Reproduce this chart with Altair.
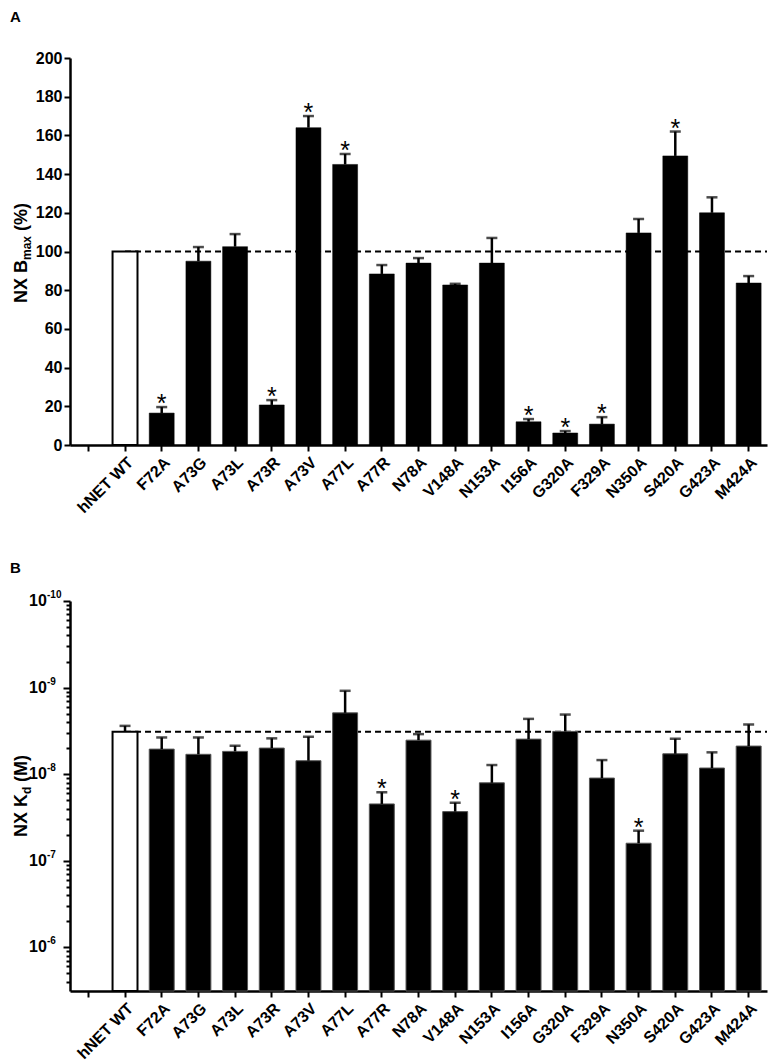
import altair as alt
import pandas as pd

# ---------------- data ----------------
categories = ["hNET WT", "F72A", "A73G", "A73L", "A73R", "A73V", "A77L", "A77R", "N78A",
              "V148A", "N153A", "I156A", "G320A", "F329A", "N350A", "S420A", "G423A", "M424A"]

bmax_mean = [100, 16.5, 95, 102.5, 20.7, 164, 145, 88.4, 94, 82.7, 94, 12, 6.2, 10.8,
             109.6, 149.4, 120, 83.7]
bmax_sem = [0, 3.1, 7.3, 6.5, 2.5, 6, 5.4, 4.6, 2.6, 0.6, 13, 1.4, 1.0, 3.6, 7.2, 12.6, 8, 3.6]
bmax_sig = [False, True, False, False, True, True, True, False, False, False, False,
            True, True, True, False, True, False, False]

kd_mean = [3.24e-9, 5.14e-9, 5.9e-9, 5.46e-9, 5.0e-9, 7.0e-9, 1.96e-9, 2.21e-8, 4.05e-9,
           2.71e-8, 1.26e-8, 3.94e-9, 3.21e-9, 1.11e-8, 6.28e-8, 5.82e-9, 8.5e-9, 4.74e-9]
kd_sem = [0.47e-9, 1.37e-9, 2.13e-9, 0.76e-9, 1.14e-9, 3.3e-9, 0.87e-9, 5.9e-9, 0.6e-9,
          5.7e-9, 4.75e-9, 1.64e-9, 1.16e-9, 4.22e-9, 17.8e-9, 1.92e-9, 2.9e-9, 2.07e-9]
kd_sig = [False, False, False, False, False, False, False, True, False, True, False,
          False, False, False, True, False, False, False]

bmax_ticks = [0, 20, 40, 60, 80, 100, 120, 140, 160, 180, 200]
kd_decades = [1e-10, 1e-9, 1e-8, 1e-7, 1e-6]
kd_exponents = ["-10", "-9", "-8", "-7", "-6"]

# ---------------- style ----------------
FONT = "Liberation Sans"
W = 697
HA = 387
HB = 390
KD_TOP = 1e-10
KD_BOTTOM = 3.2e-6

domain = [""] + categories
xscale = alt.Scale(domain=domain, paddingInner=0.32, paddingOuter=0.16)

axX = alt.Axis(title=None, labelAngle=-45, labelAlign="right", labelBaseline="top",
               labelFont=FONT, labelFontSize=16, labelFontWeight="bold", labelColor="black",
               labelOverlap=False, labelPadding=3, tickSize=6, tickWidth=2, tickColor="black",
               domainWidth=2.5, domainColor="black", grid=False)


def X():
    return alt.X("cat:N", scale=xscale, sort=domain, axis=axX)


def text_layer(txt, x, y, size, angle=0, align="left", baseline="middle", weight="bold"):
    return alt.Chart(pd.DataFrame({"t": [txt]})).mark_text(
        align=align, baseline=baseline, angle=angle, fontSize=size, fontWeight=weight,
        font=FONT, color="black"
    ).encode(x=alt.value(x), y=alt.value(y), text="t:N")


# ---------------- panel A ----------------
dfa = pd.DataFrame({"cat": categories, "val": bmax_mean, "sem": bmax_sem, "sig": bmax_sig})
dfa["top"] = dfa["val"] + dfa["sem"]

yscaleA = alt.Scale(domain=[0, 200], nice=False, zero=True)
axYA = alt.Axis(values=bmax_ticks, title=None, labelFont=FONT, labelFontSize=16,
                labelFontWeight="bold", labelColor="black", labelPadding=2,
                tickSize=6, tickWidth=2, tickColor="black", domainWidth=2.5,
                domainColor="black", grid=False)

baseA = alt.Chart(dfa)

refA = alt.Chart(pd.DataFrame({"cat": ["hNET WT"], "val": [100]})).mark_rule(
    strokeDash=[6, 4], strokeWidth=2, color="black"
).encode(x=alt.X("cat:N", scale=xscale, sort=domain, axis=axX, bandPosition=0.5),
         x2=alt.value(W), y=alt.Y("val:Q", scale=yscaleA, axis=axYA))

barsA_wt = baseA.transform_filter("datum.cat == 'hNET WT'").mark_bar(
    fill="white", stroke="black", strokeWidth=2
).encode(x=X(), y=alt.Y("val:Q", scale=yscaleA, axis=axYA))

barsA = baseA.transform_filter("datum.cat != 'hNET WT'").mark_bar(
    fill="black", stroke="black", strokeWidth=0.5
).encode(x=X(), y=alt.Y("val:Q", scale=yscaleA, axis=axYA))

errA = baseA.transform_filter("datum.sem > 0").mark_rule(strokeWidth=2.5, color="black").encode(
    x=X(), y=alt.Y("val:Q", scale=yscaleA, axis=axYA), y2="top:Q")

capA = baseA.transform_filter("datum.sem > 0").mark_tick(
    thickness=2.5, size=11, color="black", orient="horizontal"
).encode(x=X(), y=alt.Y("top:Q", scale=yscaleA, axis=axYA))

starA = baseA.transform_filter("datum.sig").mark_text(
    text="*", fontSize=25, baseline="alphabetic", dy=5, font=FONT, color="black"
).encode(x=X(), y=alt.Y("top:Q", scale=yscaleA, axis=axYA))

panelA = alt.layer(
    refA, barsA_wt, barsA, errA, capA, starA,
    text_layer("A", -60, -48, 15, baseline="top"),
    text_layer("NX B", -48, 245, 18, angle=270),
    text_layer("max", -43, 202, 12, angle=270),
    text_layer("(%)", -48, 173, 18, angle=270),
).properties(width=W, height=HA)

# ---------------- panel B ----------------
dfb = pd.DataFrame({"cat": categories, "val": kd_mean, "sem": kd_sem, "sig": kd_sig})
dfb["top"] = dfb["val"] - dfb["sem"]
dfb["base"] = KD_BOTTOM

minor = [10 ** (d + 1) / v for d in range(-10, -6) for v in range(2, 10)] + \
        [1e-5 / v for v in range(4, 10)]
tick_vals = kd_decades + minor

yscaleB = alt.Scale(type="log", domain=[KD_TOP, KD_BOTTOM], reverse=True, nice=False)
major_test = "abs(log(datum.value)/LN10 - round(log(datum.value)/LN10)) < 0.01"
axYB = alt.Axis(values=tick_vals, labels=False, title=None,
                tickSize={"condition": {"test": major_test, "value": 7}, "value": 4},
                tickWidth=2, tickColor="black", domainWidth=2.5, domainColor="black",
                grid=False)

baseB = alt.Chart(dfb)

refB = alt.Chart(pd.DataFrame({"cat": ["hNET WT"], "val": [kd_mean[0]]})).mark_rule(
    strokeDash=[6, 4], strokeWidth=2, color="black"
).encode(x=alt.X("cat:N", scale=xscale, sort=domain, axis=axX, bandPosition=0.5),
         x2=alt.value(W), y=alt.Y("val:Q", scale=yscaleB, axis=axYB))

barsB_wt = baseB.transform_filter("datum.cat == 'hNET WT'").mark_bar(
    fill="white", stroke="black", strokeWidth=2
).encode(x=X(), y=alt.Y("val:Q", scale=yscaleB, axis=axYB), y2="base:Q")

barsB = baseB.transform_filter("datum.cat != 'hNET WT'").mark_bar(
    fill="black", stroke="#555555", strokeWidth=1
).encode(x=X(), y=alt.Y("val:Q", scale=yscaleB, axis=axYB), y2="base:Q")

errB = baseB.mark_rule(strokeWidth=2.5, color="black").encode(
    x=X(), y=alt.Y("val:Q", scale=yscaleB, axis=axYB), y2="top:Q")

capB = baseB.mark_tick(thickness=2.5, size=11, color="black", orient="horizontal").encode(
    x=X(), y=alt.Y("top:Q", scale=yscaleB, axis=axYB))

starB = baseB.transform_filter("datum.sig").mark_text(
    text="*", fontSize=25, baseline="alphabetic", dy=5, font=FONT, color="black"
).encode(x=X(), y=alt.Y("top:Q", scale=yscaleB, axis=axYB))

dfdec = pd.DataFrame({"val": kd_decades, "exp": kd_exponents, "ten": ["10"] * 5})
decTen = alt.Chart(dfdec).mark_text(
    align="left", baseline="middle", fontSize=16, fontWeight="bold", font=FONT, color="black"
).encode(x=alt.value(-41), y=alt.Y("val:Q", scale=yscaleB, axis=axYB), text="ten:N")
decExp = alt.Chart(dfdec).mark_text(
    align="left", baseline="middle", fontSize=10, fontWeight="bold", font=FONT, color="black",
    dy=-6
).encode(x=alt.value(-23), y=alt.Y("val:Q", scale=yscaleB, axis=axYB), text="exp:N")

panelB = alt.layer(
    refB, barsB_wt, barsB, errB, capB, starB, decTen, decExp,
    text_layer("B", -60, -40, 15, baseline="top"),
    text_layer("NX K", -48, 236, 18, angle=270),
    text_layer("d", -43, 193, 12, angle=270),
    text_layer("(M)", -48, 181, 18, angle=270),
).properties(width=W, height=HB)

chart = alt.vconcat(panelA, panelB, spacing=45).properties(
    padding={"left": 2, "top": 2, "right": 0, "bottom": 0}
).configure_view(stroke=None)

chart.save("out.html", embed_options={"renderer": "svg", "actions": False})
